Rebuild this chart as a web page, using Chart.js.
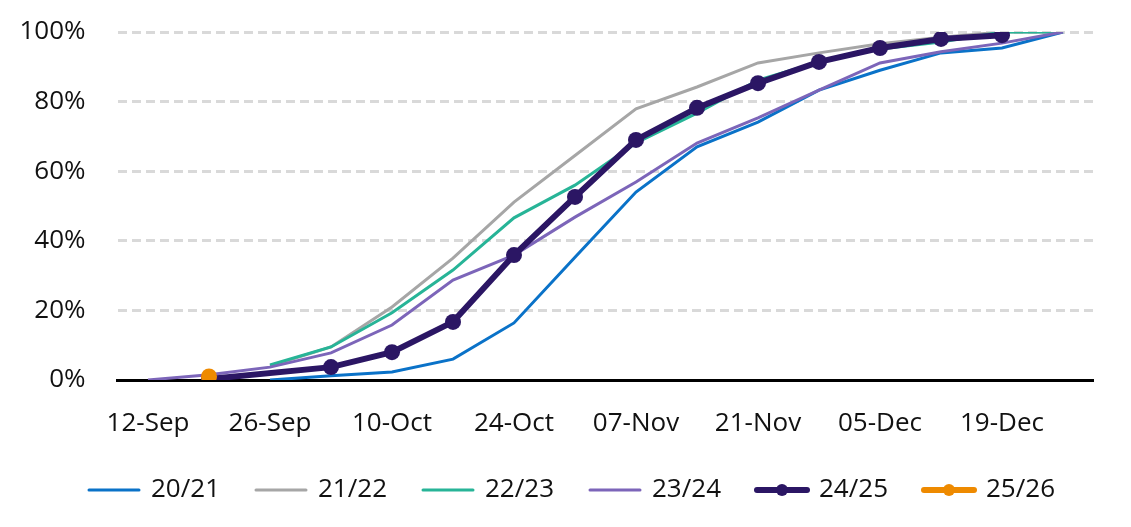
<!DOCTYPE html>
<html lang="en">
<head>
    <meta charset="UTF-8">
    <title>Season progress</title>
    <script src="https://cdn.jsdelivr.net/npm/chart.js"></script>
    <style>
        body { margin: 0; background: #fff; }
        #wrap { width: 1131px; height: 527px; }
    </style>
</head>
<body>
    <div id="wrap"><canvas id="myChart" width="1131" height="527"></canvas></div>

    <script>
        // weekly categories, labels shown every second week
        const weeks = ["12-Sep", "19-Sep", "26-Sep", "03-Oct", "10-Oct", "17-Oct", "24-Oct", "31-Oct",
                       "07-Nov", "14-Nov", "21-Nov", "28-Nov", "05-Dec", "12-Dec", "19-Dec", "26-Dec"];
        const yTicks = [0, 20, 40, 60, 80, 100];

        const s2021 = [null, null, 0, 1.2, 2.3, 6, 16.4, 35.3, 54, 67, 74.1, 83.3, 89, 94, 95.4, 100];
        const s2122 = [null, null, 4, 9.5, 21, 35, 51.1, 64.5, 77.9, 84.2, 91.1, 94, 96.6, 98.5, 100, 100];
        const s2223 = [null, null, 4.3, 9.5, 19.3, 31.6, 46.6, 56, 68.1, 76.7, 86.2, 91.4, 95.1, 97.1, 100, 100];
        const s2324 = [0, 1.5, 3.7, 7.8, 15.8, 28.7, 35.9, 46.8, 56.9, 68.1, 75.3, 83.3, 91.1, 94.3, 96.8, 100];
        const s2425 = [null, 0.3, null, 3.7, 8.0, 16.7, 35.9, 52.6, 69, 78.2, 85.3, 91.4, 95.4, 98, 99.1, null];
        const s2526 = [null, 1, null, null, null, null, null, null, null, null, null, null, null, null, null, null];

        const FONT = "'Open Sans', 'DejaVu Sans', sans-serif";

        function legendLine(color, width, dot) {
            const c = document.createElement("canvas");
            c.width = 56; c.height = 18;
            const ctx = c.getContext("2d");
            ctx.strokeStyle = color;
            ctx.lineWidth = width;
            ctx.lineCap = "round";
            ctx.beginPath();
            ctx.moveTo(3, 9); ctx.lineTo(53, 9);
            ctx.stroke();
            if (dot) {
                ctx.fillStyle = color;
                ctx.beginPath();
                ctx.arc(28, 9, 6, 0, Math.PI * 2);
                ctx.fill();
            }
            return c;
        }

        const series = [
            { label: "20/21", data: s2021, color: "#0a72c8", width: 3, dot: false, order: 5 },
            { label: "21/22", data: s2122, color: "#a6a6a6", width: 3, dot: false, order: 4 },
            { label: "22/23", data: s2223, color: "#27b497", width: 3, dot: false, order: 3 },
            { label: "23/24", data: s2324, color: "#7c65b9", width: 3, dot: false, order: 2 },
            { label: "24/25", data: s2425, color: "#2b1664", width: 6, dot: true, order: 1 },
            { label: "25/26", data: s2526, color: "#ee8a00", width: 6, dot: true, order: 0 }
        ];
        const legendImgs = series.map(s => legendLine(s.color, s.width, s.dot));

        new Chart(document.getElementById("myChart"), {
            type: "line",
            data: {
                labels: weeks,
                datasets: series.map(s => ({
                    label: s.label,
                    data: s.data,
                    borderColor: s.color,
                    backgroundColor: s.color,
                    borderWidth: s.width,
                    pointRadius: s.dot ? 8 : 0,
                    pointHoverRadius: s.dot ? 8 : 0,
                    pointBorderWidth: 0,
                    spanGaps: true,
                    tension: 0,
                    order: s.order
                }))
            },
            options: {
                responsive: false,
                animation: false,
                devicePixelRatio: 1,
                layout: { padding: { top: 32, left: 14, right: 0, bottom: 14 } },
                plugins: {
                    tooltip: { enabled: false },
                    legend: {
                        position: "bottom",
                        labels: {
                            font: { family: FONT, size: 26 },
                            color: "#111",
                            usePointStyle: true,
                            pointStyleWidth: 48,
                            padding: 37,
                            sort: (a, b) => a.datasetIndex - b.datasetIndex,
                            generateLabels: chart => {
                                const items = Chart.defaults.plugins.legend.labels.generateLabels(chart);
                                items.forEach(it => { it.pointStyle = legendImgs[it.datasetIndex]; });
                                return items;
                            }
                        }
                    }
                },
                scales: {
                    x: {
                        offset: true,
                        afterFit: s => { s.height = 60; },
                        grid: { display: false, drawTicks: false },
                        border: { display: true, color: "#000", width: 3 },
                        ticks: {
                            autoSkip: false,
                            maxRotation: 0,
                            padding: 28,
                            color: "#111",
                            font: { family: FONT, size: 26 },
                            callback: (v, i) => i % 2 === 0 ? weeks[i] : ""
                        }
                    },
                    y: {
                        min: 0,
                        max: 100,
                        afterFit: s => { s.width = 103.5; s.paddingTop = 0; s.paddingBottom = 0; },
                        afterBuildTicks: s => { s.ticks = yTicks.map(v => ({ value: v })); },
                        grid: {
                            drawTicks: false,
                            lineWidth: 3,
                            color: ctx => ctx.tick && ctx.tick.value === 0 ? "rgba(0,0,0,0)" : "#d9d9d9"
                        },
                        border: { display: false, dash: [9, 5] },
                        ticks: {
                            padding: 32,
                            color: "#111",
                            font: { family: FONT, size: 26 },
                            callback: v => v + "%"
                        }
                    },
                    y2: {
                        position: "right",
                        afterFit: s => { s.width = 37.5; },
                        grid: { display: false, drawTicks: false },
                        border: { display: false },
                        ticks: { display: false }
                    }
                }
            }
        });
    </script>
</body>
</html>
